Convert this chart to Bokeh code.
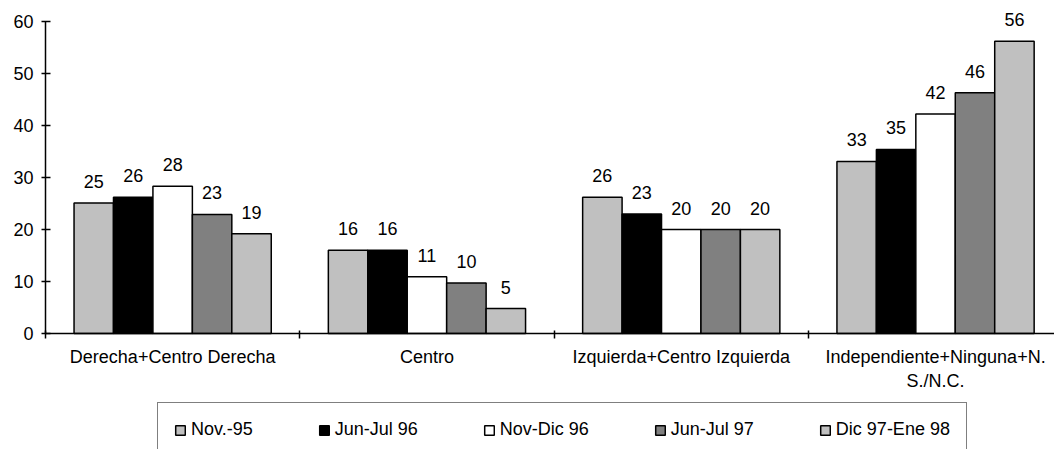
from bokeh.plotting import figure
from bokeh.models import (ColumnDataSource, Range1d, FixedTicker, LabelSet, Legend, LegendItem)
from bokeh.core.properties import value
from bokeh.embed import file_html
from bokeh.resources import INLINE

categories = ["Derecha+Centro Derecha", "Centro", "Izquierda+Centro Izquierda",
              "Independiente+Ninguna+N.\nS./N.C."]
series_names = ["Nov.-95", "Jun-Jul 96", "Nov-Dic 96", "Jun-Jul 97", "Dic 97-Ene 98"]
nov95 = [25.1, 16.0, 26.2, 33.1]
junjul96 = [26.2, 16.0, 23.0, 35.4]
novdic96 = [28.3, 10.9, 20.0, 42.2]
junjul97 = [22.9, 9.7, 20.0, 46.3]
dic97ene98 = [19.2, 4.8, 20.0, 56.2]
series_values = [nov95, junjul96, novdic96, junjul97, dic97ene98]
y_ticks = [0, 10, 20, 30, 40, 50, 60]

colors = ["#C0C0C0", "#000000", "#FFFFFF", "#808080", "#C0C0C0"]
FONT = "Liberation Sans"
bar_w = 0.1551

W, H = 1054, 449
# frame covers the whole canvas; axes are pinned inside with fixed_location
px_per_x = 254.3
px_per_y = 5.2
x0_px, y0_px = 45, 333
x_start = 0.5 - x0_px / px_per_x
x_end = 0.5 + (W - x0_px) / px_per_x
y_end = y0_px / px_per_y
y_start = -(H - y0_px) / px_per_y

p = figure(width=W, height=H, output_backend="svg", toolbar_location=None,
           x_range=Range1d(x_start, x_end), y_range=Range1d(y_start, y_end),
           min_border=0, min_border_left=0, min_border_right=0,
           min_border_top=0, min_border_bottom=0)
p.outline_line_color = None
p.xgrid.visible = False
p.ygrid.visible = False
p.background_fill_color = "white"
p.border_fill_color = "white"

idx = list(range(1, len(categories) + 1))
renderers = []
for i, (name, vals) in enumerate(zip(series_names, series_values)):
    xs = [c + (i - 2) * bar_w for c in idx]
    src = ColumnDataSource(dict(x=xs, top=vals, lab=[f"{round(v)}" for v in vals]))
    r = p.vbar(x="x", top="top", bottom=0, width=bar_w, source=src,
               fill_color=colors[i], line_color="black", line_width=1.5)
    renderers.append(r)
    p.add_layout(LabelSet(x="x", y="top", text="lab", source=src, y_offset=15,
                          text_align="center", text_baseline="alphabetic",
                          text_font=value(FONT), text_font_size=value("18px"),
                          text_color="black"))

# x axis
xa = p.xaxis[0]
xa.fixed_location = 0
xa.bounds = (0.5, 4.5)
xa.ticker = FixedTicker(ticks=idx, minor_ticks=[c - 0.5 for c in idx] + [idx[-1] + 0.5])
xa.major_label_overrides = {c: lab for c, lab in zip(idx, categories)}
xa.major_tick_in = 0
xa.major_tick_out = 0
xa.major_tick_line_color = None
xa.minor_tick_in = 3
xa.minor_tick_out = 5
xa.minor_tick_line_color = "black"
xa.minor_tick_line_width = 1.5
xa.axis_line_color = "black"
xa.axis_line_width = 1.5
xa.major_label_text_font = FONT
xa.major_label_text_font_size = "18px"
xa.major_label_text_color = "black"
xa.major_label_standoff = 8

ya = p.yaxis[0]
ya.fixed_location = 0.5
ya.bounds = (0, 60)
ya.ticker = FixedTicker(ticks=y_ticks)
ya.major_tick_in = 5
ya.major_tick_out = 4
ya.major_tick_line_color = "black"
ya.major_tick_line_width = 1.5
ya.minor_tick_line_color = None
ya.axis_line_color = "black"
ya.axis_line_width = 1.5
ya.major_label_text_font = FONT
ya.major_label_text_font_size = "18px"
ya.major_label_text_color = "black"
ya.major_label_standoff = 8

legend = Legend(items=[LegendItem(label=n, renderers=[r]) for n, r in zip(series_names, renderers)],
                orientation="horizontal", location=(157, -8),
                glyph_width=12, glyph_height=12, label_standoff=5, spacing=65,
                padding=16, margin=0,
                label_text_font=FONT, label_text_font_size="18px", label_text_color="black",
                border_line_color="black", border_line_width=1.5,
                background_fill_color="white", background_fill_alpha=1.0)
p.add_layout(legend, "center")

open("out.html", "w").write(file_html(p, INLINE))
